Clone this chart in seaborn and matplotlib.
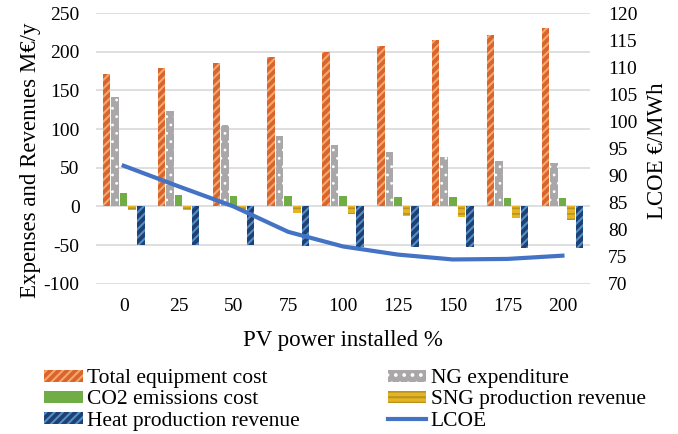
import pandas as pd
import numpy as np
import matplotlib
matplotlib.use("Agg")
import matplotlib.pyplot as plt
import seaborn as sns
from matplotlib.patches import Patch
from matplotlib.lines import Line2D

# --- données ---
pv_levels = [0, 25, 50, 75, 100, 125, 150, 175, 200]
equipment_cost = [171, 179, 186, 193, 200, 208, 215, 222, 230]
ng_expenditure = [142, 124, 105, 91, 79, 70, 64, 59, 56]
co2_cost = [17, 15, 14, 13, 13, 12, 12, 11, 11]
sng_revenue = [-5, -5, -6, -9, -10, -12, -14, -15, -18]
heat_revenue = [-50, -50, -50, -51, -52, -52, -53, -54, -54]
lcoe = [91.8, 88.0, 84.3, 79.6, 76.9, 75.4, 74.5, 74.6, 75.2]

series_names = ["Total equipment cost", "NG expenditure", "CO2 emissions cost",
                "SNG production revenue", "Heat production revenue"]
series_values = [equipment_cost, ng_expenditure, co2_cost, sng_revenue, heat_revenue]

# style de chaque série : (couleur de fond, motif, couleur du motif, épaisseur du motif)
styles = {
    "Total equipment cost": ("#D9652A", "////", "#F4A772", 1.5),
    "NG expenditure": ("#A9A7A7", "..", "#FFFFFF", 0.8),
    "CO2 emissions cost": ("#70AD47", "", "#70AD47", 1.0),
    "SNG production revenue": ("#E6B422", "---", "#B8941E", 1.2),
    "Heat production revenue": ("#22406E", "////", "#4E8FD0", 1.5),
}

df = pd.DataFrame({
    "pv": np.tile([str(p) for p in pv_levels], len(series_names)),
    "serie": np.repeat(series_names, len(pv_levels)),
    "valeur": np.concatenate(series_values),
})

plt.rcParams["font.family"] = ["Liberation Serif", "DejaVu Serif"]
plt.rcParams["hatch.linewidth"] = 1.5
plt.rcParams["axes.unicode_minus"] = False


def apply_style(p, name):
    fc, hatch, hc, hlw = styles[name]
    p.set_facecolor(fc)
    p.set_hatch(hatch)
    p.set_edgecolor(hc)
    p.set_linewidth(0)
    if hasattr(p, "set_hatch_linewidth"):
        p.set_hatch_linewidth(hlw)


fig = plt.figure(figsize=(6.78, 4.34), dpi=100)
ax = fig.add_axes([0.142, 0.346, 0.728, 0.624])

sns.barplot(data=df, x="pv", y="valeur", hue="serie", hue_order=series_names,
            order=[str(p) for p in pv_levels], width=0.78, gap=0.12,
            ax=ax, legend=False, errorbar=None)

for cont, name in zip(ax.containers, series_names):
    for bar in cont:
        apply_style(bar, name)

ax.set_ylim(-100, 250)
ax.set_yticks(range(-100, 251, 50))
ax.grid(axis="y", color="#D9D9D9", lw=1.2)
ax.set_axisbelow(True)
ax.tick_params(axis="y", length=0, labelsize=14, pad=12)
ax.tick_params(axis="x", length=0, labelsize=14, pad=10)
ax.set_xlabel("PV power installed %", fontsize=16.5)
ax.set_ylabel("Expenses and Revenues M€/y", fontsize=16.5)
ax.xaxis.set_label_coords(0.5, -0.21, transform=ax.transAxes)
ax.xaxis.label.set_va("center")
ax.yaxis.set_label_coords(-0.133, 0.455, transform=ax.transAxes)
ax.yaxis.label.set_va("center")
for s in ax.spines.values():
    s.set_visible(False)

ax2 = ax.twinx()
sns.lineplot(x=np.arange(len(pv_levels)), y=lcoe, ax=ax2, color="#4472C4", lw=3)
ax2.set_ylim(70, 120)
ax2.set_yticks(range(70, 121, 5))
ax2.tick_params(length=0, labelsize=14, pad=13)
ax2.set_ylabel("LCOE €/MWh", fontsize=16.5)
ax2.yaxis.set_label_coords(1.138, 0.49, transform=ax2.transAxes)
ax2.yaxis.label.set_va("center")
for s in ax2.spines.values():
    s.set_visible(False)
ax.set_xlim(-0.5, len(pv_levels) - 0.5)

# --- légende en bas, deux colonnes ---
def make_patch(name):
    p = Patch(label=name)
    apply_style(p, name)
    return p

handles = [make_patch("Total equipment cost"), make_patch("CO2 emissions cost"),
           make_patch("Heat production revenue"), make_patch("NG expenditure"),
           make_patch("SNG production revenue"),
           Line2D([0], [0], color="#4472C4", lw=3, label="LCOE")]
fig.legend(handles=handles, loc="lower left", bbox_to_anchor=(0.052, -0.012), ncol=2,
           frameon=False, fontsize=15.5, handlelength=1.8, handleheight=0.47,
           handletextpad=0.19, labelspacing=0.1, columnspacing=4.1,
           borderaxespad=0.3, borderpad=0.1)

fig.savefig("out.png", dpi=100)
